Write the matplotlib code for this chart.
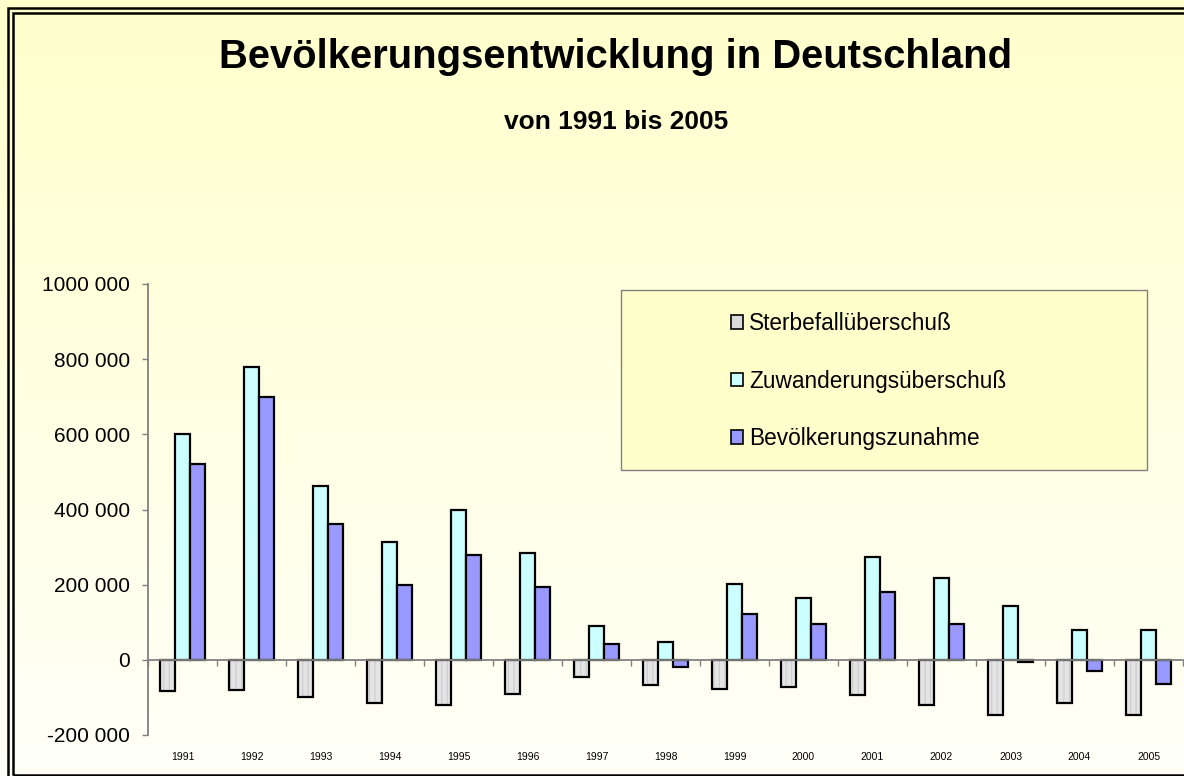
import matplotlib
matplotlib.use("Agg")
import matplotlib.pyplot as plt
import numpy as np
from matplotlib.patches import Patch, Rectangle
from matplotlib.ticker import FuncFormatter, FixedLocator

plt.rcParams["font.family"] = ["Liberation Sans", "DejaVu Sans"]
plt.rcParams["hatch.linewidth"] = 0.8

# data
years = ["1991", "1992", "1993", "1994", "1995", "1996", "1997", "1998",
         "1999", "2000", "2001", "2002", "2003", "2004", "2005"]
sterbefall = [-84000, -79000, -99000, -116000, -120000, -90000, -47000, -68000,
              -78000, -72000, -94000, -121000, -147000, -115000, -147000]
zuwanderung = [600000, 780000, 462000, 314000, 399000, 283000, 90000, 48000,
               203000, 165000, 273000, 219000, 143000, 80000, 80000]
zunahme = [521000, 700000, 362000, 199000, 278000, 194000, 43000, -20000,
           122000, 96000, 181000, 96000, -5000, -31000, -63000]
series_names = ["Sterbefallüberschuß", "Zuwanderungsüberschuß", "Bevölkerungszunahme"]

GREY = "#E4E4E4"
CYAN = "#CCFFFF"
PURPLE = "#9999FF"
W, H = 1184, 776


def fmt_thousands(v, pos):
    # Excel-style "# ##0": only the last group is split off -> "1000 000"
    v = int(round(v))
    if v == 0:
        return "0"
    sign = "-" if v < 0 else ""
    v = abs(v)
    return f"{sign}{v // 1000} {v % 1000:03d}"


fig = plt.figure(figsize=(W / 100, H / 100), dpi=100)

# yellow-to-white background gradient
bg = fig.add_axes([0, 0, 1, 1], zorder=-10)
grad = np.linspace(0, 1, 256)[:, None]
top = np.array([1.0, 1.0, 0.80])
bot = np.array([1.0, 1.0, 0.975])
img = top[None, None, :] * (1 - grad[..., None]) + bot[None, None, :] * grad[..., None]
bg.imshow(img, aspect="auto", extent=[0, 1, 0, 1], origin="upper")
bg.set_xlim(0, 1)
bg.set_ylim(0, 1)
bg.axis("off")

# double frame (right side is cut off in the reference)
fig.patches.append(Rectangle((8 / W, -0.1), 1.2, (H - 8) / H + 0.1, transform=fig.transFigure,
                             fill=False, edgecolor="black", linewidth=1.8, zorder=5))
fig.patches.append(Rectangle((13 / W, 1.5 / H), 1.2, (H - 14.5) / H, transform=fig.transFigure,
                             fill=False, edgecolor="black", linewidth=1.8, zorder=5))

ax = fig.add_axes([148 / W, (H - 735) / H, 1035 / W, 451 / H])
ax.patch.set_alpha(0)

x = np.arange(len(years))
w = 0.222
# grey bars: hatched fill, then black outline on top
ax.bar(x - w, sterbefall, w, color=GREY, edgecolor="#CCCCCC", linewidth=0, hatch="|||", zorder=2)
ax.bar(x - w, sterbefall, w, fill=False, edgecolor="black", linewidth=1.6, zorder=3)
ax.bar(x, zuwanderung, w, color=CYAN, edgecolor="black", linewidth=1.6, zorder=3)
ax.bar(x + w, zunahme, w, color=PURPLE, edgecolor="black", linewidth=1.6, zorder=3)

ax.set_xlim(-0.5, len(years) - 0.5)
ax.set_ylim(-200000, 1000000)
ax.set_yticks(np.arange(-200000, 1000001, 200000))
ax.yaxis.set_major_formatter(FuncFormatter(fmt_thousands))
ax.tick_params(axis="y", length=4, width=1, color="#808080", labelsize=15, pad=9)

for s in ["top", "right"]:
    ax.spines[s].set_visible(False)
ax.spines["left"].set_color("#808080")
ax.spines["left"].set_linewidth(1.3)
ax.spines["bottom"].set_position(("data", 0))
ax.spines["bottom"].set_color("#808080")
ax.spines["bottom"].set_linewidth(1.3)
ax.spines["bottom"].set_zorder(4)
ax.xaxis.set_major_locator(FixedLocator(np.arange(-0.5, len(years), 1.0)))
ax.tick_params(axis="x", length=4, width=1, color="#808080", labelbottom=False)

for i, yr in enumerate(years):
    ax.text(i, -0.049, yr, transform=ax.get_xaxis_transform(), ha="center", va="center",
            fontsize=7.5)

fig.text(616 / W, (H - 68) / H, "Bevölkerungsentwicklung in Deutschland", ha="center",
         va="baseline", fontsize=28.8, fontweight="bold")
fig.text(616 / W, (H - 129) / H, "von 1991 bis 2005", ha="center", va="baseline",
         fontsize=19, fontweight="bold")

# legend box
fig.patches.append(Rectangle((621 / W, (H - 470) / H), 526 / W, 180 / H, transform=fig.transFigure,
                             facecolor="#FFFFCC", edgecolor="#808080", linewidth=1, zorder=1))
handles = [
    Patch(facecolor="#DADADA", edgecolor="black", linewidth=1.2),
    Patch(facecolor=CYAN, edgecolor="black", linewidth=1.2),
    Patch(facecolor=PURPLE, edgecolor="black", linewidth=1.2),
]
fig.legend(handles, series_names, loc="upper left", bbox_to_anchor=(731 / W, (H - 312) / H),
           frameon=False, fontsize=16.3, handlelength=0.55, handleheight=0.55,
           handletextpad=0.25, labelspacing=1.53, borderpad=0, borderaxespad=0)

fig.savefig("out.png", dpi=100)
